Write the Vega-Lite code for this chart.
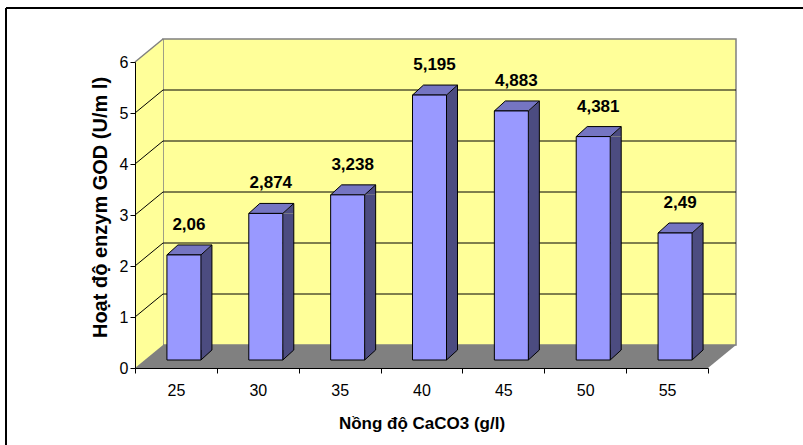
{
  "$schema": "https://vega.github.io/schema/vega-lite/v6.json",
  "width": 797,
  "height": 437,
  "autosize": {"type": "none"},
  "padding": {"left": 6, "top": 8, "right": 0, "bottom": 0},
  "background": "white",
  "config": {
    "view": {"stroke": null},
    "font": "Liberation Sans",
    "axis": {"labelFont": "Liberation Sans", "titleFont": "Liberation Sans"},
    "locale": {"number": {"decimal": ",", "thousands": ".", "grouping": [3], "currency": ["", ""]}}
  },
  "datasets": {
    "bars": [
      {"c": 25, "v": 2.06},
      {"c": 30, "v": 2.874},
      {"c": 35, "v": 3.238},
      {"c": 40, "v": 5.195},
      {"c": 45, "v": 4.883},
      {"c": 50, "v": 4.381},
      {"c": 55, "v": 2.49}
    ],
    "levels": [{"g": 1}, {"g": 2}, {"g": 3}, {"g": 4}, {"g": 5}]
  },
  "data": {"name": "bars"},
  "layer": [
    {
      "mark": {"type": "bar", "width": 34, "xOffset": 8, "yOffset": -8, "y2Offset": -8, "fill": "#9999FF", "opacity": 0},
      "encoding": {
        "x": {
          "field": "c", "type": "ordinal",
          "scale": {"type": "band", "domain": [25, 30, 35, 40, 45, 50, 55], "range": [129, 702], "paddingInner": 0, "paddingOuter": 0},
          "axis": {
            "orient": "bottom", "offset": -77, "zindex": 1,
            "title": "Nồng độ CaCO3 (g/l)",
            "labelAngle": 0, "grid": false,
            "domainColor": "#000000", "domainWidth": 1,
            "ticks": true, "tickBand": "extent", "tickColor": "#000000", "tickSize": 5, "tickWidth": 1,
            "labelFontSize": 16, "labelColor": "#000000", "labelPadding": 9,
            "titleFontSize": 17, "titleFontWeight": "bold", "titleColor": "#000000", "titlePadding": 17
          }
        },
        "y": {
          "field": "v", "type": "quantitative",
          "scale": {"type": "linear", "domain": [0, 6], "range": [360, 54], "nice": false, "zero": false},
          "axis": {
            "orient": "left", "offset": -129, "zindex": 1,
            "values": [0, 1, 2, 3, 4, 5, 6], "format": "d",
            "title": "Hoạt độ enzym GOD (U/m l)",
            "grid": false, "labelFlush": false,
            "domainColor": "#000000", "domainWidth": 1,
            "tickColor": "#000000", "tickSize": 5, "tickWidth": 1,
            "labelFontSize": 16, "labelColor": "#000000", "labelPadding": 2,
            "titleFontSize": 20, "titleFontWeight": "bold", "titleColor": "#000000", "titlePadding": 9, "titleY": 199
          }
        },
        "y2": {"datum": 0}
      }
    },
    {
      "data": {"values": [{}]},
      "mark": {"type": "rule", "stroke": "#000000", "strokeWidth": 2},
      "encoding": {"y": {"value": 0}}
    },
    {
      "data": {"values": [{}]},
      "mark": {"type": "rule", "stroke": "#000000", "strokeWidth": 2},
      "encoding": {"x": {"value": 0}}
    },
    {
      "data": {"values": [{}]},
      "mark": {"type": "rect", "fill": "#FFFF99", "stroke": "#808080", "strokeWidth": 1.5, "xOffset": 28, "x2Offset": 28, "yOffset": -23, "y2Offset": -23},
      "encoding": {
        "x": {"datum": 25, "type": "ordinal", "bandPosition": 0},
        "x2": {"datum": 55, "bandPosition": 1},
        "y": {"datum": 0, "type": "quantitative"},
        "y2": {"datum": 6}
      }
    },
    {
      "data": {"values": [{}]},
      "mark": {"type": "rect", "fill": "#FFFF99", "x2Offset": 28},
      "encoding": {
        "x": {"datum": 25, "type": "ordinal", "bandPosition": 0},
        "x2": {"datum": 25, "bandPosition": 0},
        "y": {"datum": 0, "type": "quantitative"},
        "y2": {"datum": 6}
      }
    },
    {
      "data": {"values": [{}]},
      "mark": {"type": "point", "shape": "M0,0L28,-23L28,0Z", "size": 4, "filled": true, "fill": "#FFFF99", "strokeWidth": 0, "opacity": 1},
      "encoding": {
        "x": {"datum": 25, "type": "ordinal", "bandPosition": 0},
        "y": {"datum": 6, "type": "quantitative"}
      }
    },
    {
      "data": {"values": [{}]},
      "mark": {"type": "rule", "stroke": "#808080", "strokeWidth": 1.5, "x2Offset": 28, "y2Offset": -23},
      "encoding": {
        "x": {"datum": 25, "type": "ordinal", "bandPosition": 0},
        "x2": {"datum": 25, "bandPosition": 0},
        "y": {"datum": 6, "type": "quantitative"},
        "y2": {"datum": 6}
      }
    },
    {
      "data": {"name": "levels"},
      "mark": {"type": "rule", "stroke": "#000000", "strokeWidth": 1, "x2Offset": 28, "y2Offset": -23},
      "encoding": {
        "x": {"datum": 25, "type": "ordinal", "bandPosition": 0},
        "x2": {"datum": 25, "bandPosition": 0},
        "y": {"field": "g", "type": "quantitative"},
        "y2": {"field": "g"}
      }
    },
    {
      "data": {"name": "levels"},
      "mark": {"type": "rule", "stroke": "#000000", "strokeWidth": 1, "xOffset": 28, "x2Offset": 28, "yOffset": -23},
      "encoding": {
        "x": {"datum": 25, "type": "ordinal", "bandPosition": 0},
        "x2": {"datum": 55, "bandPosition": 1},
        "y": {"field": "g", "type": "quantitative"}
      }
    },
    {
      "data": {"values": [{}]},
      "mark": {"type": "rect", "fill": "#808080", "xOffset": 28, "yOffset": -23},
      "encoding": {
        "x": {"datum": 25, "type": "ordinal", "bandPosition": 0},
        "x2": {"datum": 55, "bandPosition": 1},
        "y": {"datum": 0, "type": "quantitative"},
        "y2": {"datum": 0}
      }
    },
    {
      "data": {"values": [{}]},
      "mark": {"type": "point", "shape": "M0,0L28,0L28,-23Z", "size": 4, "filled": true, "fill": "#808080", "strokeWidth": 0, "opacity": 1},
      "encoding": {
        "x": {"datum": 25, "type": "ordinal", "bandPosition": 0},
        "y": {"datum": 0, "type": "quantitative"}
      }
    },
    {
      "data": {"values": [{}]},
      "mark": {"type": "point", "shape": "M0,0L0,-23L28,-23Z", "size": 4, "filled": true, "fill": "#808080", "strokeWidth": 0, "opacity": 1},
      "encoding": {
        "x": {"datum": 55, "type": "ordinal", "bandPosition": 1},
        "y": {"datum": 0, "type": "quantitative"}
      }
    },
    {
      "mark": {"type": "bar", "width": 11, "xOffset": 30.5, "yOffset": -8, "y2Offset": -18, "fill": "#4C4C80"},
      "encoding": {
        "x": {"field": "c", "type": "ordinal"},
        "y": {"field": "v", "type": "quantitative"},
        "y2": {"datum": 0}
      }
    },
    {
      "mark": {"type": "point", "shape": "M0,-10L0,0L11,-10", "size": 4, "filled": true, "fill": "#4C4C80", "stroke": "#000000", "strokeWidth": 1, "opacity": 1, "xOffset": 25, "yOffset": -8},
      "encoding": {
        "x": {"field": "c", "type": "ordinal"},
        "y": {"datum": 0, "type": "quantitative"}
      }
    },
    {
      "mark": {"type": "point", "shape": "M34,0L45,-10L45,0Z", "size": 4, "filled": true, "fill": "#4C4C80", "strokeWidth": 0, "opacity": 1, "xOffset": -9, "yOffset": -8},
      "encoding": {
        "x": {"field": "c", "type": "ordinal"},
        "y": {"field": "v", "type": "quantitative"}
      }
    },
    {
      "mark": {"type": "point", "shape": "M0,0L34,0L45,-10L11,-10Z", "size": 4, "filled": true, "fill": "#7575C2", "stroke": "#000000", "strokeWidth": 1, "opacity": 1, "xOffset": -9, "yOffset": -8},
      "encoding": {
        "x": {"field": "c", "type": "ordinal"},
        "y": {"field": "v", "type": "quantitative"}
      }
    },
    {
      "mark": {"type": "rule", "stroke": "#000000", "strokeWidth": 1, "xOffset": 36, "yOffset": -18, "y2Offset": -18},
      "encoding": {
        "x": {"field": "c", "type": "ordinal"},
        "y": {"field": "v", "type": "quantitative"},
        "y2": {"datum": 0}
      }
    },
    {
      "mark": {"type": "bar", "width": 34, "xOffset": 8, "yOffset": -8, "y2Offset": -8, "fill": "#9999FF", "stroke": "#000000", "strokeWidth": 1},
      "encoding": {
        "x": {"field": "c", "type": "ordinal"},
        "y": {"field": "v", "type": "quantitative"},
        "y2": {"datum": 0}
      }
    },
    {
      "mark": {"type": "text", "font": "Liberation Sans", "fontSize": 17, "fontWeight": "bold", "fill": "#000000", "align": "center", "baseline": "alphabetic", "xOffset": 13, "yOffset": -33},
      "encoding": {
        "x": {"field": "c", "type": "ordinal"},
        "y": {"field": "v", "type": "quantitative"},
        "text": {"field": "v", "type": "quantitative", "format": "~g"}
      }
    }
  ]
}
